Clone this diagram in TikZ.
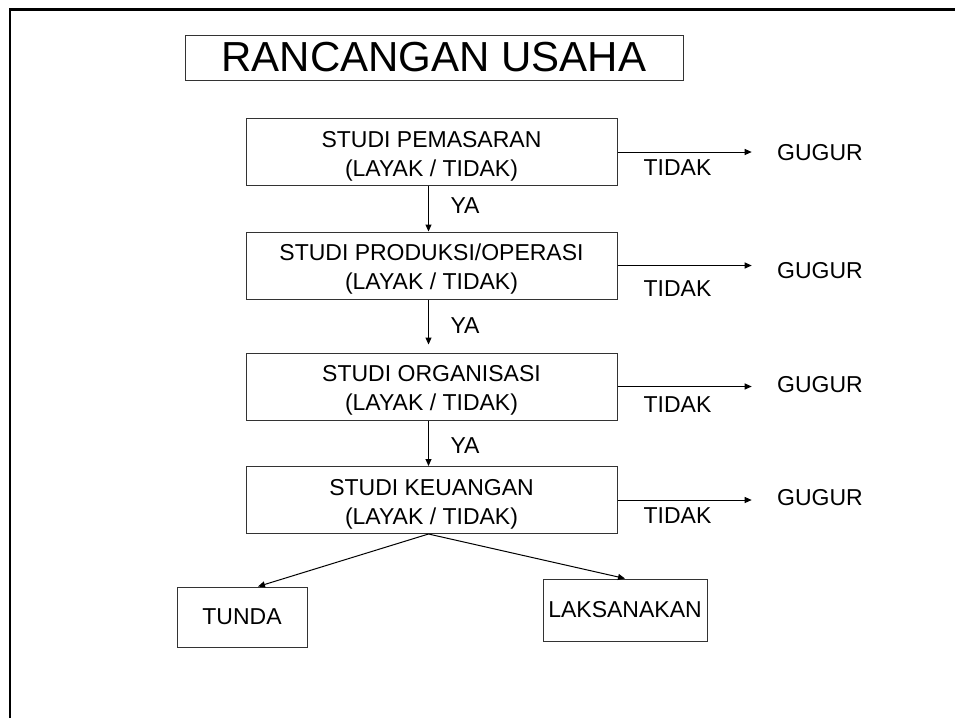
\documentclass[tikz,border=0pt]{standalone}
\usepackage{fontspec}
\setmainfont{Liberation Sans}
\usetikzlibrary{calc}
\usetikzlibrary{arrows.meta}

\newcommand{\firstline}{\rule{0pt}{24.5pt}}

\begin{document}
\begin{tikzpicture}[x=1pt, y=-1pt,
	line width=1pt,
	title node/.style={draw=black!80, minimum width=498pt, minimum height=45pt, inner sep=0pt, font=\fontsize{42}{48}\selectfont},
	study node/.style={draw=black!80, minimum width=371pt, minimum height=67pt, inner sep=0pt, align=center, font=\fontsize{23}{29}\selectfont},
	end node/.style={draw=black!80, inner sep=0pt, font=\fontsize{23}{29}\selectfont},
	label node/.style={anchor=base, inner sep=0pt, font=\fontsize{23}{29}\selectfont},
	flow/.style={-{Triangle[length=7pt, width=6pt]}}]
	
	\useasboundingbox (0,0) rectangle (955,718);
	\draw[line width=2.5pt] (10,718) -- (10,9.5) -- (955,9.5);
	
	\node[title node] (Title) at (434,57.5) {RANCANGAN USAHA};
	
	\node[study node] (Pasar) at (431.5,152) {\firstline STUDI PEMASARAN\\(LAYAK / TIDAK)};
	\node[study node] (Produksi) at (431.5,265.5) {\firstline STUDI PRODUKSI/OPERASI\\(LAYAK / TIDAK)};
	\node[study node] (Organisasi) at (431.5,386.5) {\firstline STUDI ORGANISASI\\(LAYAK / TIDAK)};
	\node[study node] (Keuangan) at (431.5,500) {\firstline STUDI KEUANGAN\\(LAYAK / TIDAK)};
	
	\node[end node, minimum width=130pt, minimum height=60pt] (Tunda) at (242,617) {TUNDA};
	\node[end node, minimum width=164pt, minimum height=62pt] (Laksana) at (625,610) {LAKSANAKAN};
	
	% jalur YA
	\draw[flow] ([xshift=-3pt]Pasar.south) -- ([xshift=-3pt]Produksi.north);
	\draw[flow, shorten >=8pt] ([xshift=-3pt]Produksi.south) -- ([xshift=-3pt]Organisasi.north);
	\draw[flow] ([xshift=-3pt]Organisasi.south) -- ([xshift=-3pt]Keuangan.north);
	\node[label node] (Ya1) at (465,213) {YA};
	\node[label node] (Ya2) at (465,333) {YA};
	\node[label node] (Ya3) at (465,453) {YA};
	
	% jalur TIDAK
	\foreach \study/\gy/\ty [count=\i] in {Pasar/160/175, Produksi/278/296, Organisasi/392/412, Keuangan/505/523} {
		\node[label node] (Gugur\i) at (820,\gy) {GUGUR};
		\node[label node] (Tidak\i) at (677.5,\ty) {TIDAK};
		\draw[flow] (\study.east) -- (\study.east -| Gugur\i.west) [shorten >=25pt];
	}
	
	% keputusan akhir
	\draw[flow] ([xshift=-3pt]Keuangan.south) -- ([xshift=16pt]Tunda.north);
	\draw[flow] ([xshift=-3pt]Keuangan.south) -- (Laksana.north);
\end{tikzpicture}
\end{document}
